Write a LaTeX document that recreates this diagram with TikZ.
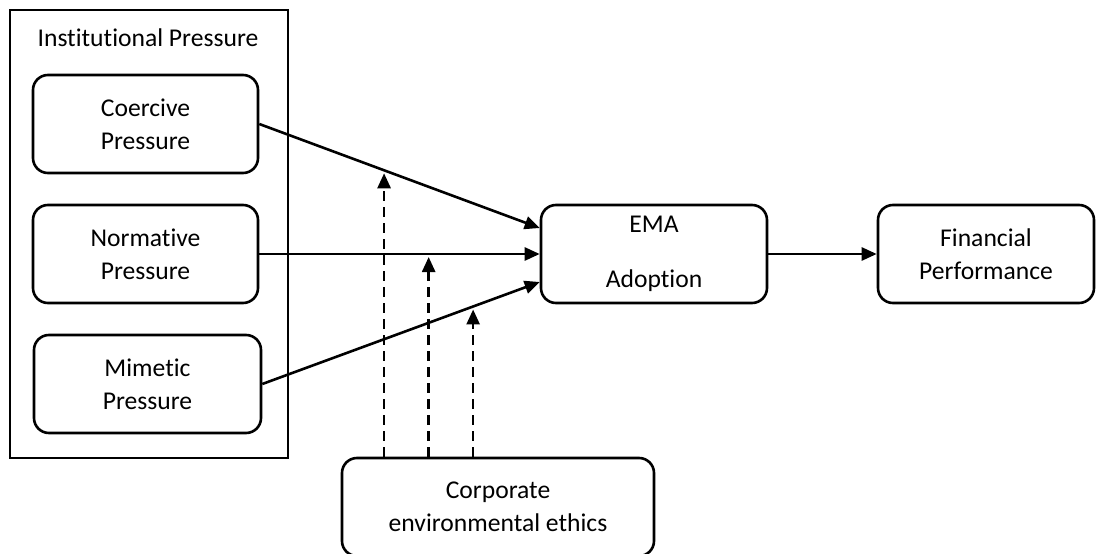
\documentclass[tikz,border=0pt]{standalone}
\usepackage{fontspec}
\setmainfont{Carlito}[Ligatures=NoCommon]
\usepackage{tikz}
\usetikzlibrary{arrows.meta}
\usetikzlibrary{positioning}

\tikzset{
    box/.style={draw, line width=2.6pt, rounded corners=15pt, align=center,
        minimum width=225pt, minimum height=98pt, inner sep=0pt,
        font=\fontsize{25.6}{33}\selectfont},
    outer/.style={draw, line width=2.6pt, minimum width=278pt, minimum height=448pt, inner sep=0pt},
    link/.style={line width=2.6pt, -{Triangle[length=15pt, width=13pt]}},
    modlink/.style={link, dash pattern=on 10pt off 6pt, shorten >=3pt}
}

\begin{document}
\begin{tikzpicture}[x=1pt, y=-1pt]
    \useasboundingbox (0,0) rectangle (1096,554);
    % institutional pressure group
    \node[outer] (ip) at (149,234) {};
    \node[font=\fontsize{25.6}{33}\selectfont] (ipt) at (148,38) {Institutional Pressure};
    \node[box] (cp) at (145.5,124) {Coercive\\Pressure};
    \node[box] (np) at (145.5,254) {Normative\\Pressure};
    \node[box, minimum width=227pt] (mp) at (147.5,384) {Mimetic\\Pressure};
    % outcomes
    \node[box, minimum width=226pt] (ema) at (654,254) {EMA\\[22pt]Adoption};
    \node[box, minimum width=216pt] (fp) at (986,254) {Financial\\Performance};
    % moderator
    \node[box, minimum width=312pt] (cee) at (498,507) {Corporate\\environmental ethics};

    \draw[link] (cp.east) -- coordinate[pos=0.445] (m1) ([yshift=26pt]ema.west);
    \draw[link] (np.east) -- coordinate[pos=0.604] (m2) (ema.west);
    \draw[link] (mp.east) -- coordinate[pos=0.76] (m3) ([yshift=-28pt]ema.west);
    \draw[link] (ema) -- (fp);

    \draw[modlink] (cee.north -| m1) -- (m1);
    \draw[modlink] (cee.north -| m2) -- (m2);
    \draw[modlink] (cee.north -| m3) -- (m3);
\end{tikzpicture}
\end{document}
